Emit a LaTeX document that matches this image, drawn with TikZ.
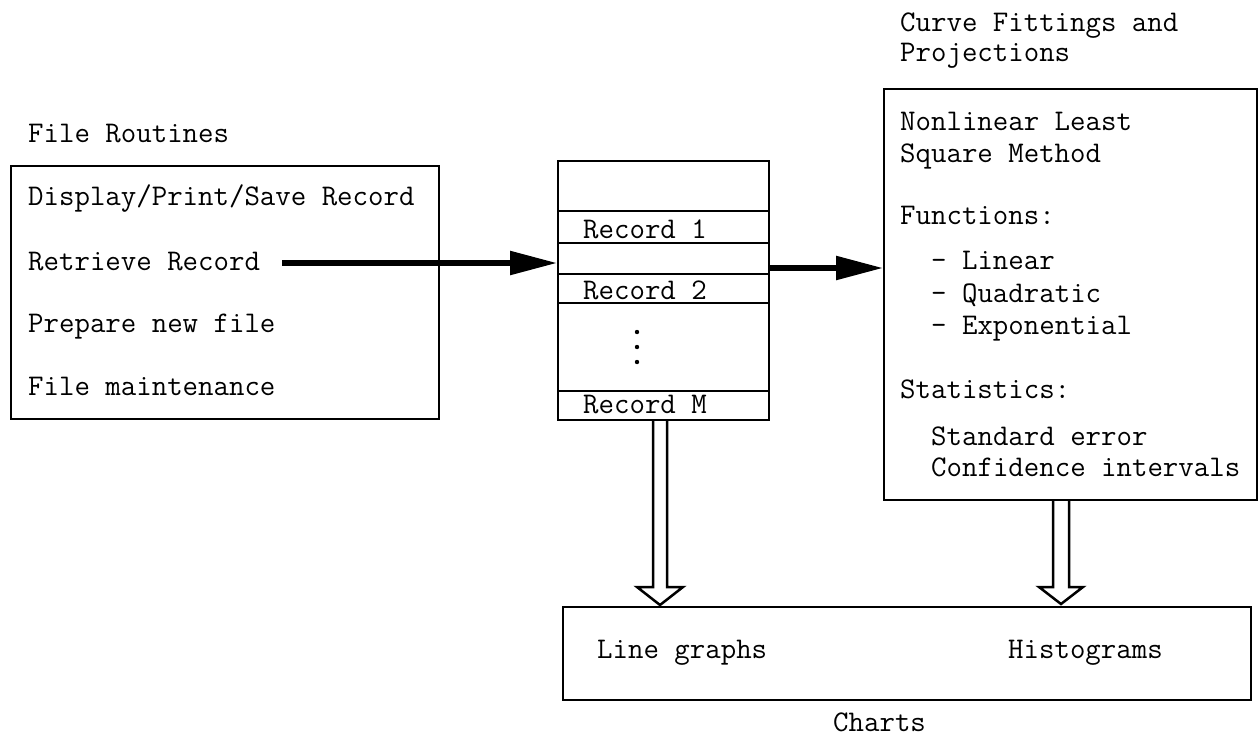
\documentclass[tikz,border=0pt]{standalone}
\usepackage{fontspec}
\usetikzlibrary{arrows.meta}
\begin{document}
\begin{tikzpicture}[x=1pt,y=-1pt,
  txt/.style={anchor=base west, inner sep=0pt, font=\fontsize{30}{32}\selectfont\ttfamily},
  box/.style={draw, line width=2pt, rectangle, inner sep=0pt, anchor=north west},
  sep/.style={line width=2pt},
  bigarrow/.style={line width=5.5pt, -{Triangle[length=47pt,width=23pt]}},
  hollow/.style={draw, line width=2.5pt, line join=miter}]
\useasboundingbox (0,0) rectangle (1258,740);

% boxes
\node[box, minimum width=428pt, minimum height=253pt] (files) at (10,165) {};
\node[box, minimum width=211pt, minimum height=259pt] (mid) at (557,160) {};
\node[box, minimum width=373pt, minimum height=411pt] (fitb) at (883,88) {};
\node[box, minimum width=688pt, minimum height=93pt] (charts) at (562,606) {};

% file routines
\node[txt] (lfiles) at (28,142) {File Routines};
\node[txt] (t1) at (28,205) {Display/Print/Save Record};
\node[txt] (t2) at (28,270) {Retrieve Record};
\node[txt] (t3) at (28,332) {Prepare new file};
\node[txt] (t4) at (28,395) {File maintenance};

% middle record box
\foreach \yy in {211,243,274,303,391}
  \draw[sep] (mid.west |- 0,\yy) -- (mid.east |- 0,\yy);
\node[txt] (r1) at (583,238) {Record 1};
\node[txt] (r2) at (583,299) {Record 2};
\node[txt] (rm) at (583,413) {Record M};
\foreach \yy in {332,347,362}
  \fill (637,\yy) circle (2.2pt);

% curve fitting box
\node[txt] (lfit1) at (900,31) {Curve Fittings and};
\node[txt] (lfit2) at (900,61) {Projections};
\node[txt] (f1) at (900,130) {Nonlinear Least};
\node[txt] (f2) at (900,162) {Square Method};
\node[txt] (f3) at (900,224) {Functions:};
\node[txt] (f4) at (931,269) {- Linear};
\node[txt] (f5) at (931,302) {- Quadratic};
\node[txt] (f6) at (931,334) {- Exponential};
\node[txt] (f7) at (900,398) {Statistics:};
\node[txt] (f8) at (931,445) {Standard error};
\node[txt] (f9) at (931,476) {Confidence intervals};

% charts box
\node[txt] (c1) at (597,658) {Line graphs};
\node[txt] (c2) at (1008,658) {Histograms};
\node[txt] (lcharts) at (833,731) {Charts};

% solid arrows
\coordinate (a1s) at (282,263);
\draw[bigarrow] (a1s) -- (a1s -| mid.west);
\coordinate (a2s) at (768,268);
\draw[bigarrow] (a2s) -- (a2s -| fitb.west);

% hollow arrows
\path[hollow] (653,419) -- (653,587) -- (637,587) -- (660,605) -- (683,587) -- (667,587) -- (667,419);
\path[hollow] (1053,499) -- (1053,587) -- (1039,587) -- (1061,604) -- (1083,587) -- (1069,587) -- (1069,499);
\end{tikzpicture}
\end{document}
